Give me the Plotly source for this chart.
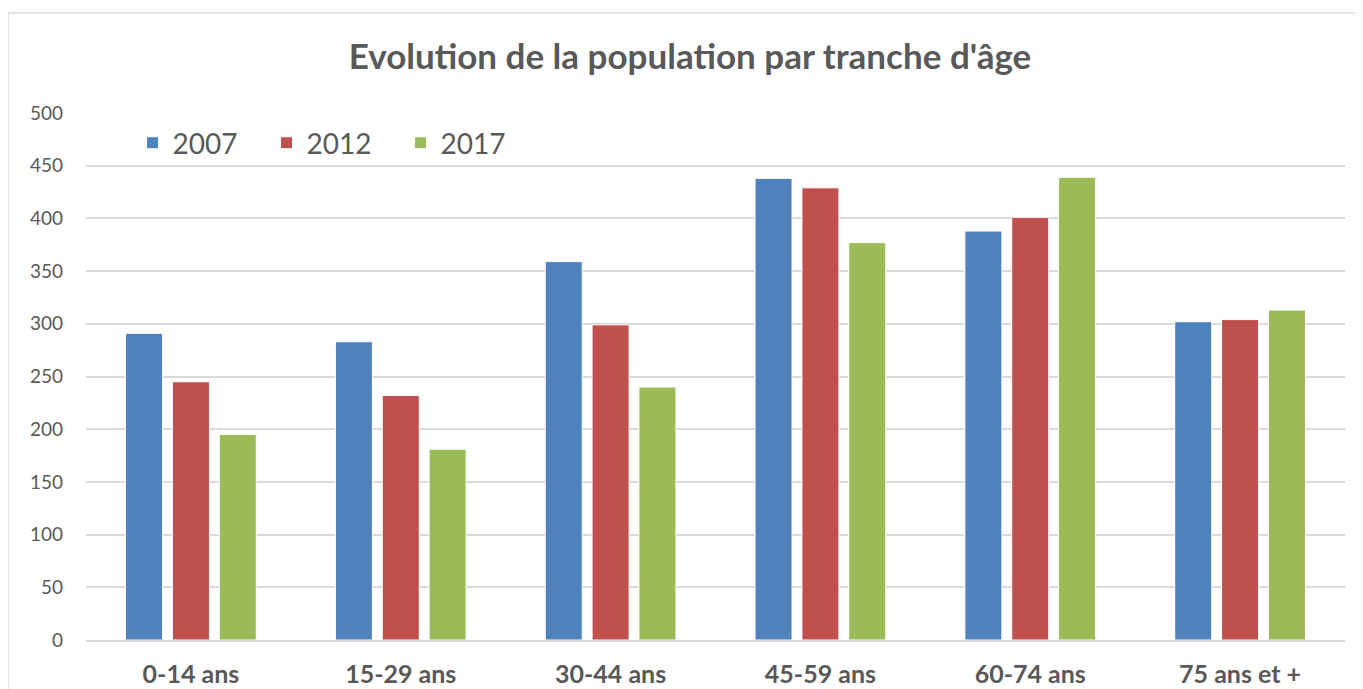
import plotly.graph_objects as go

# Age groups and population counts per census year
categories = ["0-14 ans", "15-29 ans", "30-44 ans", "45-59 ans", "60-74 ans", "75 ans et +"]
years = ["2007", "2012", "2017"]
pop_2007 = [291, 283, 359, 438, 388, 302]
pop_2012 = [245, 232, 299, 429, 401, 304]
pop_2017 = [195, 181, 240, 377, 439, 313]
y_ticks = [0, 50, 100, 150, 200, 250, 300, 350, 400, 450, 500]

# Office-style palette
colors = ["#4F81BD", "#C0504D", "#9BBB59"]
FONT = "Lato"
GREY = "#595959"

# the page body adds an 8px margin, so the figure is sized 8px smaller
W, H = 1355, 681

fig = go.Figure()
for name, vals, col in zip(years, [pop_2007, pop_2012, pop_2017], colors):
    fig.add_trace(go.Bar(
        name=name, x=categories, y=vals,
        marker=dict(color=col, line=dict(color="white", width=1)),
    ))

fig.update_layout(
    width=W, height=H,
    barmode="group", bargap=0.33, bargroupgap=0.21,
    plot_bgcolor="white", paper_bgcolor="white",
    margin=dict(l=78, r=18, t=105, b=49),
    font=dict(family=FONT, color=GREY),
    # title is centred on the whole chart box, not the plot area
    title=dict(
        text="<b>Evolution de la population par tranche d'âge</b>",
        x=682 / W, xref="container", xanchor="center",
        y=1 - 49 / H, yanchor="middle",
        font=dict(size=35, color=GREY, family=FONT),
    ),
    legend=dict(
        orientation="h", x=0.037, y=0.943, xanchor="left", yanchor="middle",
        font=dict(size=28, color=GREY), bgcolor="rgba(0,0,0,0)",
        entrywidth=89, traceorder="normal",
    ),
    # thin chart border, as in the spreadsheet export
    shapes=[dict(
        type="rect", xref="paper", yref="paper",
        x0=(8 - 86) / 1259, x1=(1361 - 86) / 1259,
        y0=-0.2, y1=(640 - 13) / 527,
        line=dict(color="#D9D9D9", width=1.5), layer="below",
    )],
)
fig.update_yaxes(
    range=[0, 500], tickvals=y_ticks, showgrid=True, gridcolor="#D9D9D9", gridwidth=2,
    zeroline=False, showline=False, tickfont=dict(size=19, color=GREY),
    ticklabelstandoff=22, automargin=False,
)
fig.update_xaxes(
    showline=True, linecolor="#D9D9D9", linewidth=2,
    tickfont=dict(size=25, color=GREY, family=FONT), ticklabelstandoff=11,
    tickprefix="<b>", ticksuffix="</b>", automargin=False,
)

fig.write_html("out.html")
